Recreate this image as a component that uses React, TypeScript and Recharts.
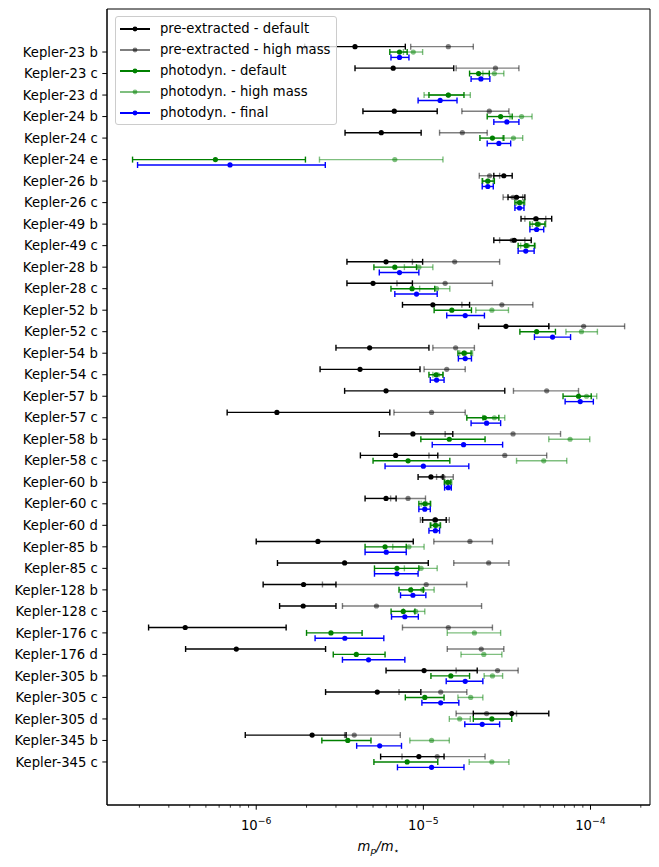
import React from 'react';
import {
  ScatterChart,
  Scatter,
  XAxis,
  YAxis,
  ErrorBar,
  Legend,
  ReferenceArea,
  Label,
} from 'recharts';

// [value, lower bound, upper bound] in units of m_p/m_star, null = not present
type Est = [number, number, number] | null;

const planets = [
  'Kepler-23 b', 'Kepler-23 c', 'Kepler-23 d', 'Kepler-24 b', 'Kepler-24 c', 'Kepler-24 e',
  'Kepler-26 b', 'Kepler-26 c', 'Kepler-49 b', 'Kepler-49 c', 'Kepler-28 b', 'Kepler-28 c',
  'Kepler-52 b', 'Kepler-52 c', 'Kepler-54 b', 'Kepler-54 c', 'Kepler-57 b', 'Kepler-57 c',
  'Kepler-58 b', 'Kepler-58 c', 'Kepler-60 b', 'Kepler-60 c', 'Kepler-60 d', 'Kepler-85 b',
  'Kepler-85 c', 'Kepler-128 b', 'Kepler-128 c', 'Kepler-176 c', 'Kepler-176 d', 'Kepler-305 b',
  'Kepler-305 c', 'Kepler-305 d', 'Kepler-345 b', 'Kepler-345 c',
];

const preDefault: Est[] = [
  [3.9e-6, 1.95e-6, 7.8e-6], [6.6e-6, 3.9e-6, 1.52e-5], null, [6.7e-6, 4.35e-6, 1.21e-5],
  [5.6e-6, 3.4e-6, 9.7e-6], null, [3.03e-5, 2.64e-5, 3.4e-5], [3.61e-5, 3.21e-5, 4.05e-5],
  [4.73e-5, 3.84e-5, 5.86e-5], [3.5e-5, 2.64e-5, 4.42e-5], [5.98e-6, 3.49e-6, 9.9e-6],
  [5.0e-6, 3.49e-6, 8.6e-6], [1.14e-5, 7.5e-6, 1.89e-5], [3.12e-5, 2.14e-5, 5.63e-5],
  [4.77e-6, 3.0e-6, 1.08e-5], [4.18e-6, 2.41e-6, 9.55e-6], [5.98e-6, 3.38e-6, 3.07e-5],
  [1.33e-6, 6.7e-7, 6.3e-6], [8.66e-6, 5.45e-6, 1.5e-5], [6.83e-6, 4.2e-6, 1.22e-5],
  [1.11e-5, 9.3e-6, 1.31e-5], [5.98e-6, 4.48e-6, 6.87e-6], [1.18e-5, 9.9e-6, 1.37e-5],
  [2.34e-6, 1.0e-6, 8.7e-6], [3.38e-6, 1.34e-6, 1.07e-5], [1.92e-6, 1.1e-6, 3.0e-6],
  [1.91e-6, 1.38e-6, 3.0e-6], [3.76e-7, 2.27e-7, 1.51e-6], [7.6e-7, 3.78e-7, 2.6e-6],
  [1.01e-5, 5.98e-6, 2.1e-5], [5.3e-6, 2.6e-6, 9.66e-6], [3.38e-5, 1.99e-5, 5.63e-5],
  [2.16e-6, 8.6e-7, 3.45e-6], [9.4e-6, 5.55e-6, 1.33e-5],
];

const preHighMass: Est[] = [
  [1.41e-5, 8.4e-6, 1.99e-5], [2.7e-5, 1.57e-5, 3.73e-5], null, [2.48e-5, 1.7e-5, 3.25e-5],
  [1.71e-5, 1.25e-5, 2.41e-5], null, [2.49e-5, 2.16e-5, 2.86e-5], [3.44e-5, 3.0e-5, 3.93e-5],
  [4.68e-5, 4.05e-5, 5.4e-5], [3.4e-5, 2.86e-5, 4.05e-5], [1.54e-5, 8.6e-6, 2.86e-5],
  [1.35e-5, 6.95e-6, 2.59e-5], [2.95e-5, 1.7e-5, 4.52e-5], [9.1e-5, 5.63e-5, 1.6e-4],
  [1.56e-5, 1.14e-5, 2.02e-5], [1.38e-5, 1.01e-5, 1.78e-5], [5.47e-5, 3.46e-5, 8.48e-5],
  [1.12e-5, 6.67e-6, 1.78e-5], [3.44e-5, 1.35e-5, 6.62e-5], [3.07e-5, 1.08e-5, 5.47e-5],
  [1.31e-5, 1.2e-5, 1.51e-5], [8.1e-6, 6.37e-6, 1.03e-5], [1.17e-5, 9.6e-6, 1.43e-5],
  [1.9e-5, 1.155e-5, 2.59e-5], [2.46e-5, 1.52e-5, 3.25e-5], [1.04e-5, 2.49e-6, 1.82e-5],
  [5.24e-6, 3.28e-6, 2.23e-5], [1.41e-5, 7.5e-6, 2.59e-5], [2.22e-5, 1.39e-5, 3.03e-5],
  [2.78e-5, 1.57e-5, 3.69e-5], [1.27e-5, 7.15e-6, 1.82e-5], [2.39e-5, 1.57e-5, 3.61e-5],
  [3.86e-6, 3.38e-6, 7.28e-6], [1.21e-5, 7.45e-6, 2.34e-5],
];

const photoDefault: Est[] = [
  [7.2e-6, 6.3e-6, 8.0e-6], [2.14e-5, 1.89e-5, 2.48e-5], [1.41e-5, 1.08e-5, 1.75e-5],
  [2.9e-5, 2.41e-5, 3.4e-5], [2.59e-5, 2.18e-5, 3.03e-5], [5.7e-7, 1.82e-7, 1.97e-6],
  [2.43e-5, 2.25e-5, 2.66e-5], [3.76e-5, 3.53e-5, 4.0e-5], [4.82e-5, 4.34e-5, 5.34e-5],
  [4.12e-5, 3.69e-5, 4.62e-5], [6.75e-6, 5.06e-6, 9.1e-6], [8.56e-6, 6.4e-6, 1.17e-5],
  [1.48e-5, 1.16e-5, 1.94e-5], [4.76e-5, 3.78e-5, 6.17e-5], [1.75e-5, 1.61e-5, 1.93e-5],
  [1.19e-5, 1.08e-5, 1.31e-5], [8.48e-5, 6.85e-5, 1.01e-4], [2.32e-5, 1.82e-5, 2.83e-5],
  [1.43e-5, 9.66e-6, 2.34e-5], [8.1e-6, 5.0e-6, 1.44e-5], [1.4e-5, 1.335e-5, 1.46e-5],
  [1.02e-5, 9.4e-6, 1.1e-5], [1.18e-5, 1.1e-5, 1.26e-5], [5.9e-6, 4.48e-6, 7.9e-6],
  [6.95e-6, 5.1e-6, 9.4e-6], [8.4e-6, 7.15e-6, 1.0e-5], [7.58e-6, 6.41e-6, 8.9e-6],
  [2.8e-6, 2.0e-6, 4.3e-6], [3.97e-6, 2.89e-6, 5.9e-6], [1.46e-5, 1.11e-5, 1.89e-5],
  [1.02e-5, 7.8e-6, 1.33e-5], [2.57e-5, 1.99e-5, 3.38e-5], [3.53e-6, 2.47e-6, 4.86e-6],
  [8.0e-6, 5.06e-6, 1.22e-5],
];

const photoHighMass: Est[] = [
  [8.7e-6, 7.6e-6, 9.9e-6], [2.66e-5, 2.27e-5, 3.03e-5], [1.41e-5, 1.01e-5, 1.91e-5],
  [3.87e-5, 3.3e-5, 4.47e-5], [3.46e-5, 2.98e-5, 3.93e-5], [6.75e-6, 2.39e-6, 1.31e-5],
  [2.43e-5, 2.27e-5, 2.62e-5], [3.82e-5, 3.61e-5, 4.05e-5], [4.9e-5, 4.49e-5, 5.4e-5],
  [4.19e-5, 3.82e-5, 4.68e-5], [9.4e-6, 7.7e-6, 1.14e-5], [1.2e-5, 9.5e-6, 1.44e-5],
  [2.57e-5, 2.06e-5, 3.23e-5], [8.83e-5, 7.13e-5, 1.1e-4], [1.77e-5, 1.65e-5, 1.97e-5],
  [1.22e-5, 1.14e-5, 1.31e-5], [9.47e-5, 8.58e-5, 1.09e-4], [2.66e-5, 2.27e-5, 3.07e-5],
  [7.55e-5, 5.63e-5, 9.9e-5], [5.25e-5, 3.61e-5, 7.21e-5], [1.41e-5, 1.35e-5, 1.48e-5],
  [1.04e-5, 9.7e-6, 1.11e-5], [1.2e-5, 1.12e-5, 1.27e-5], [8.2e-6, 6.56e-6, 1.01e-5],
  [9.7e-6, 7.7e-6, 1.21e-5], [9.9e-6, 8.5e-6, 1.16e-5], [9.0e-6, 7.6e-6, 1.02e-5],
  [2.02e-5, 1.39e-5, 2.9e-5], [2.3e-5, 1.68e-5, 2.95e-5], [2.59e-5, 2.31e-5, 2.98e-5],
  [1.92e-5, 1.61e-5, 2.27e-5], [1.65e-5, 1.43e-5, 1.91e-5], [1.12e-5, 8.3e-6, 1.43e-5],
  [2.57e-5, 1.88e-5, 3.25e-5],
];

const photoFinal: Est[] = [
  [7.2e-6, 6.4e-6, 8.2e-6], [2.21e-5, 1.93e-5, 2.5e-5], [1.26e-5, 9.3e-6, 1.59e-5],
  [3.16e-5, 2.64e-5, 3.73e-5], [2.83e-5, 2.41e-5, 3.33e-5], [6.97e-7, 1.95e-7, 2.59e-6],
  [2.43e-5, 2.25e-5, 2.62e-5], [3.76e-5, 3.53e-5, 4.0e-5], [4.76e-5, 4.34e-5, 5.25e-5],
  [4.1e-5, 3.69e-5, 4.6e-5], [7.2e-6, 5.45e-6, 9.4e-6], [9.1e-6, 6.75e-6, 1.21e-5],
  [1.78e-5, 1.38e-5, 2.32e-5], [5.93e-5, 4.62e-5, 7.6e-5], [1.78e-5, 1.62e-5, 1.94e-5],
  [1.2e-5, 1.1e-5, 1.33e-5], [8.68e-5, 7.05e-5, 1.04e-4], [2.39e-5, 1.93e-5, 2.9e-5],
  [1.74e-5, 1.13e-5, 2.98e-5], [1.0e-5, 5.9e-6, 1.87e-5], [1.41e-5, 1.34e-5, 1.47e-5],
  [1.02e-5, 9.4e-6, 1.1e-5], [1.18e-5, 1.08e-5, 1.25e-5], [6.0e-6, 4.48e-6, 7.9e-6],
  [6.95e-6, 5.1e-6, 9.3e-6], [8.66e-6, 7.3e-6, 1.035e-5], [7.75e-6, 6.45e-6, 9.33e-6],
  [3.39e-6, 2.25e-6, 5.8e-6], [4.7e-6, 3.28e-6, 7.75e-6], [1.78e-5, 1.37e-5, 2.27e-5],
  [1.27e-5, 9.8e-6, 1.63e-5], [2.25e-5, 1.77e-5, 2.86e-5], [5.48e-6, 3.99e-6, 7.4e-6],
  [1.12e-5, 7.0e-6, 1.75e-5],
];

const xTicks = [
  2e-7, 3e-7, 4e-7, 5e-7, 6e-7, 7e-7, 8e-7, 9e-7,
  1e-6, 2e-6, 3e-6, 4e-6, 5e-6, 6e-6, 7e-6, 8e-6, 9e-6,
  1e-5, 2e-5, 3e-5, 4e-5, 5e-5, 6e-5, 7e-5, 8e-5, 9e-5,
  1e-4, 2e-4,
];

const FONT = 'DejaVu Sans';

const series = [
  { name: 'pre-extracted - default', values: preDefault, color: '#000000', shift: -0.25 },
  { name: 'pre-extracted - high mass', values: preHighMass, color: 'rgba(0,0,0,0.5)', shift: -0.25 },
  { name: 'photodyn. - default', values: photoDefault, color: '#008000', shift: 0 },
  { name: 'photodyn. - high mass', values: photoHighMass, color: 'rgba(0,128,0,0.5)', shift: 0 },
  { name: 'photodyn. - final', values: photoFinal, color: '#0000ff', shift: 0.25 },
];

// one point per planet, row index shifted so the series sit apart
const toPoints = (values: Est[], shift: number) =>
  values.flatMap((v, i) =>
    v ? [{ y: i + shift, x: v[0], err: [v[0] - v[1], v[2] - v[0]] }] : []
  );

const LogTick = ({ x, y, payload }: any) => {
  const lg = Math.log10(payload.value);
  const exp = Math.round(lg);
  const major = Math.abs(lg - exp) < 1e-6;
  return (
    <g>
      <line x1={x} x2={x} y1={y} y2={y + (major ? 4.7 : 2.7)} stroke="#000" strokeWidth={major ? 1 : 0.8} />
      {major && (
        <text x={x} y={y + 25} textAnchor="middle" fontSize={13.2} fontFamily={FONT} fill="#000">
          10
          <tspan dy={-6} fontSize={9.3}>{'\u2212' + Math.abs(exp)}</tspan>
        </text>
      )}
    </g>
  );
};

const XLabel = ({ viewBox }: any) => {
  const cx = viewBox.x + viewBox.width / 2;
  return (
    <text x={cx} y={viewBox.y + 46} textAnchor="middle" fontSize={13.2} fontFamily={FONT} fill="#000" fontStyle="italic">
      m<tspan dy={3} fontSize={9.3}>p</tspan>
      <tspan dy={-3}>/m</tspan>
      <tspan dy={3} fontSize={9.3} fontStyle="normal">{'\u22c6'}</tspan>
    </text>
  );
};

const renderLegend = () => (
  <div
    style={{
      background: 'rgba(255,255,255,0.8)',
      border: '1px solid #cccccc',
      borderRadius: 3,
      padding: '1px 6px 1px 3px',
      fontFamily: FONT,
      fontSize: 13.2,
      color: '#000',
    }}
  >
    {series.map((s) => (
      <div key={s.name} style={{ display: 'flex', alignItems: 'center', height: 21, whiteSpace: 'nowrap' }}>
        <svg width={32} height={10} style={{ flex: 'none' }}>
          <line x1={1} x2={31} y1={5} y2={5} stroke={s.color} strokeWidth={2} />
          <circle cx={16} cy={5} r={2.4} fill={s.color} />
        </svg>
        <span style={{ marginLeft: 9 }}>{s.name}</span>
      </div>
    ))}
  </div>
);

export default function App() {
  return (
    <div style={{ position: 'absolute', left: 0, top: 0, background: '#fff' }}>
      <ScatterChart width={659} height={867} margin={{ top: 9, right: 9, left: 7, bottom: 0 }}>
        <XAxis
          type="number"
          dataKey="x"
          scale="log"
          domain={[1.28e-7, 2.27e-4]}
          allowDataOverflow
          ticks={xTicks}
          interval={0}
          tick={<LogTick />}
          tickLine={false}
          tickSize={0}
          tickMargin={0}
          height={62}
          axisLine={{ stroke: '#000' }}
        >
          <Label content={<XLabel />} />
        </XAxis>
        <YAxis
          type="number"
          dataKey="y"
          domain={[-2, 35]}
          reversed
          allowDataOverflow
          ticks={planets.map((_, i) => i)}
          interval={0}
          tickFormatter={(i: number) => planets[i]}
          width={100}
          tickSize={4.7}
          tickMargin={4.5}
          tick={{ fill: '#000', fontSize: 13.2, fontFamily: FONT }}
          tickLine={{ stroke: '#000' }}
          axisLine={{ stroke: '#000' }}
        />
        <ReferenceArea
          x1={1.28e-7}
          x2={2.27e-4}
          y1={-2}
          y2={35}
          stroke="#000"
          strokeWidth={1}
          fill="none"
          fillOpacity={0}
          ifOverflow="visible"
        />
        {series.map((s) => (
          <Scatter
            key={s.name}
            name={s.name}
            data={toPoints(s.values, s.shift)}
            fill={s.color}
            isAnimationActive={false}
            shape={(p: any) => <circle cx={p.cx} cy={p.cy} r={2.6} fill={s.color} />}
          >
            <ErrorBar dataKey="err" direction="x" width={3} stroke={s.color} strokeWidth={1.4} />
          </Scatter>
        ))}
        <Legend
          layout="vertical"
          align="center"
          verticalAlign="middle"
          content={renderLegend}
          wrapperStyle={{ position: 'absolute', top: 16, left: 115, width: 'auto', height: 'auto' }}
        />
      </ScatterChart>
    </div>
  );
}
